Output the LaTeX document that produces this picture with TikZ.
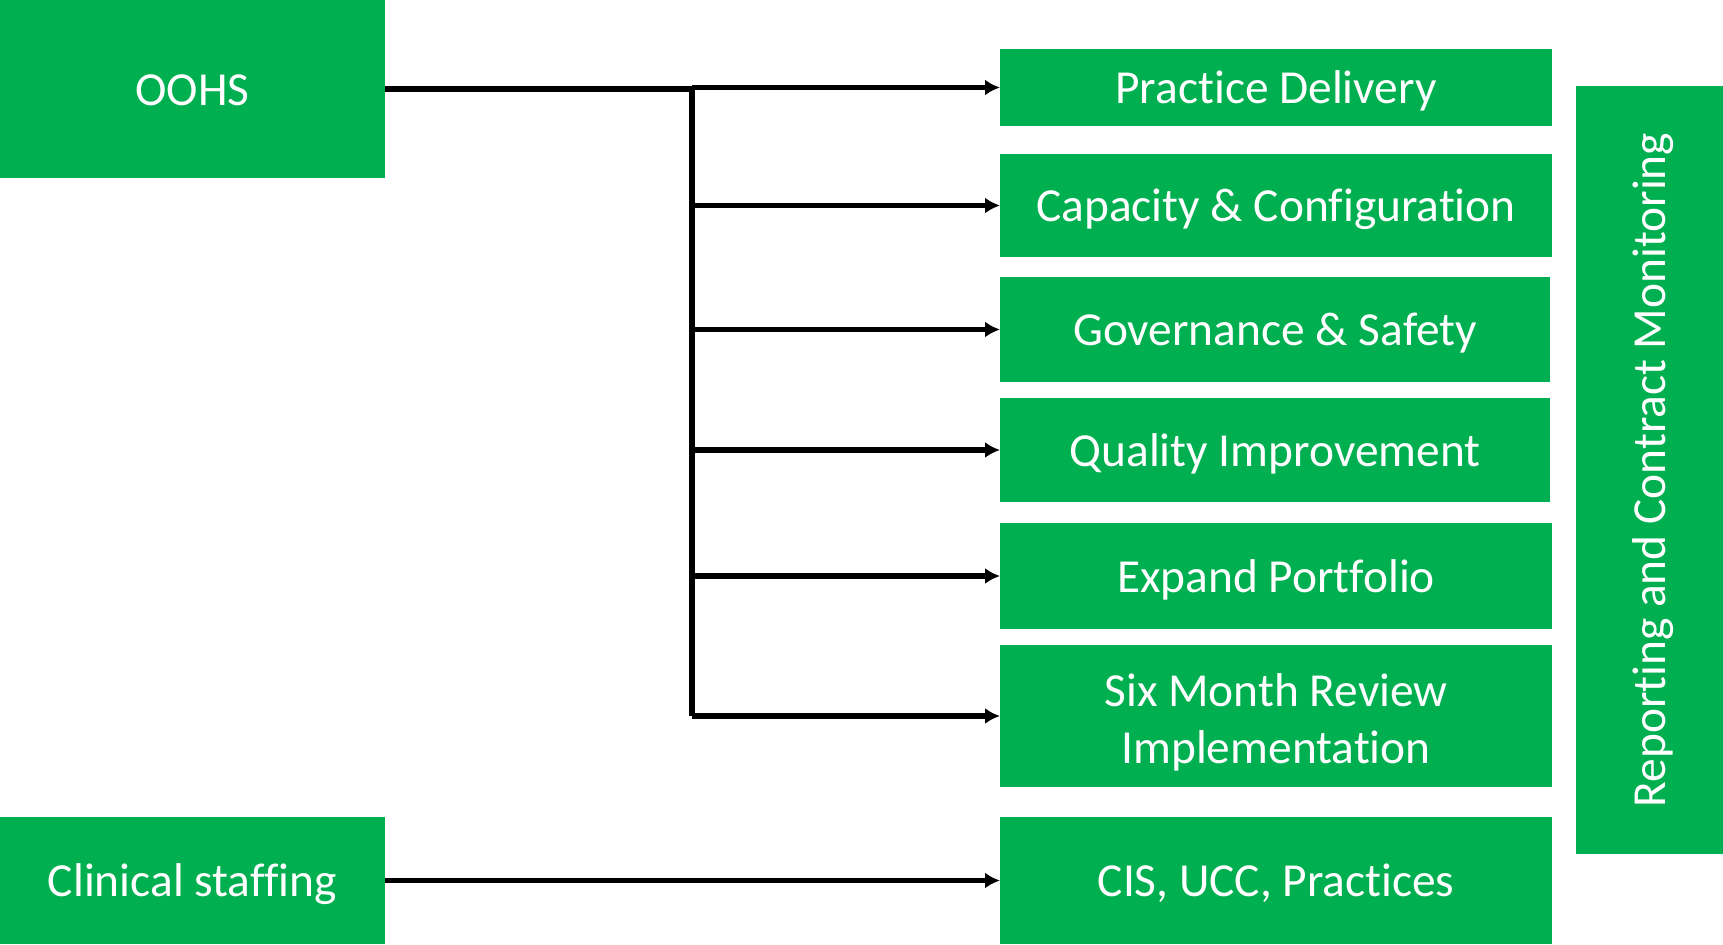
\documentclass[tikz,border=0pt]{standalone}
\usepackage{fontspec}
\setmainfont{Carlito}[Ligatures=NoCommon, RawFeature={-liga;-clig}]
\usetikzlibrary{arrows.meta}
\definecolor{boxgreen}{RGB}{0,176,80}
\tikzset{
  greenbox/.style={fill=boxgreen, text=white, inner sep=0pt, outer sep=0pt, align=center,
    font=\fontsize{23.7}{28.5}\selectfont, text height=22.5pt, text depth=6.4pt},
  link/.style={line width=2.6pt},
  linkarrow/.style={line width=2.6pt, -{Latex[length=7.5pt,width=8pt]}}
}
\begin{document}
\begin{tikzpicture}[x=0.5pt,y=0.5pt,yscale=-1,xscale=1]
        \useasboundingbox (0,0) rectangle (1723,944);

        %Shape: Left boxes
        \node [greenbox, minimum width=192.5pt, minimum height=89pt] (oohs) at (192.5,89) {OOHS};
        \node [greenbox, minimum width=192.5pt, minimum height=63.5pt] (clinical) at (192.5,880.5) {Clinical staffing};

        %Shape: Right boxes
        \node [greenbox, minimum width=276pt, minimum height=38.5pt] (delivery) at (1276,87.5) {Practice Delivery};
        \node [greenbox, minimum width=276pt, minimum height=51.5pt] (capacity) at (1276,205.5) {Capacity \& Configuration};
        \node [greenbox, minimum width=275pt, minimum height=52.5pt] (governance) at (1275,329.5) {Governance \& Safety};
        \node [greenbox, minimum width=275pt, minimum height=52pt] (quality) at (1275,450) {Quality Improvement};
        \node [greenbox, minimum width=276pt, minimum height=53pt] (portfolio) at (1276,576) {Expand Portfolio};
        \node [greenbox, text height=53.4pt, minimum width=276pt, minimum height=71pt] (review) at (1276,716) {Six Month Review\\Implementation};
        \node [greenbox, minimum width=276pt, minimum height=63.5pt] (practices) at (1276,880.5) {CIS, UCC, Practices};

        %Shape: Side box
        \node [greenbox, rotate=90, minimum width=384pt, minimum height=73.5pt] (reporting) at (1649.5,470) {Reporting and Contract Monitoring};

        %Straight Lines: trunk
        \coordinate (trunk) at (692,89);
        \draw [link] (oohs.east |- trunk) -- (trunk) -- (trunk |- review.west);

        %Straight Lines: branches
        \foreach \target in {delivery,capacity,governance,quality,portfolio,review}
          \draw [linkarrow] (trunk |- \target.west) -- (\target.west);

        %Straight Lines: staffing
        \draw [linkarrow] (clinical.east) -- (practices.west);

\end{tikzpicture}
\end{document}
